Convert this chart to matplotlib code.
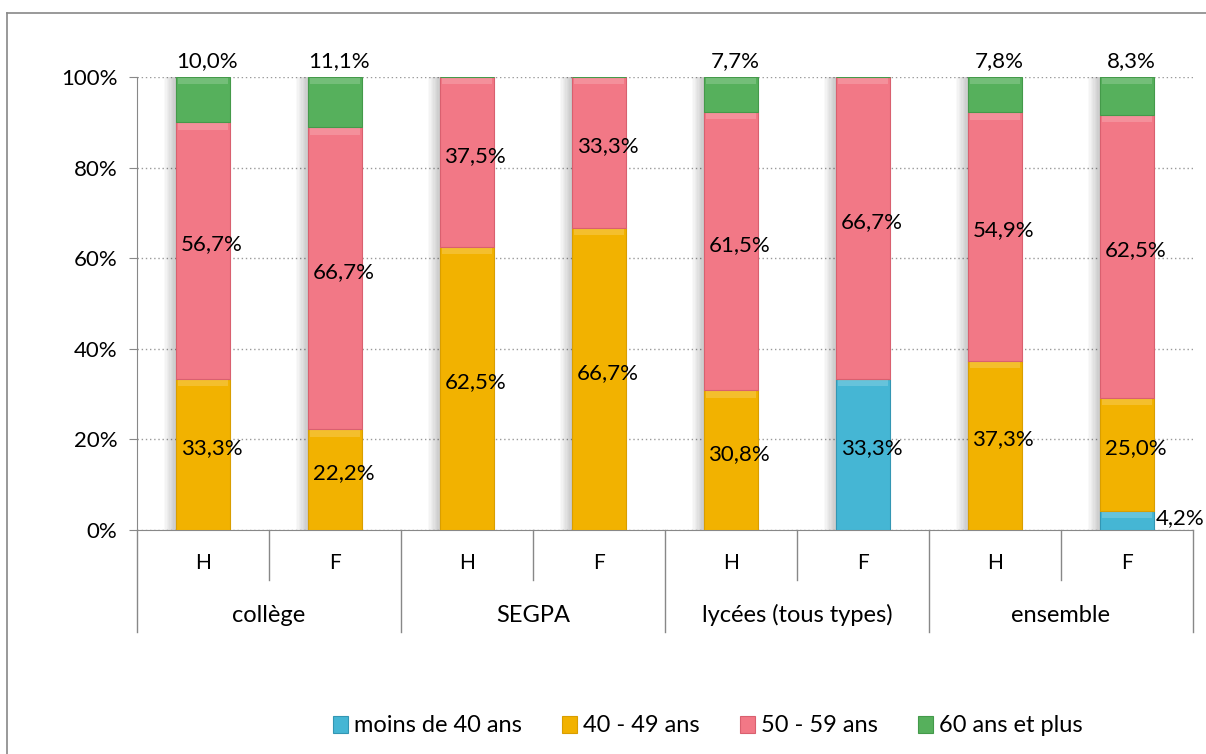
import numpy as np
import matplotlib.pyplot as plt
from matplotlib.lines import Line2D

plt.rcParams['font.family'] = ['Lato', 'DejaVu Sans']

# data
groups = ['collège', 'SEGPA', 'lycées (tous types)', 'ensemble']
sexes = ['H', 'F', 'H', 'F', 'H', 'F', 'H', 'F']
series = ['moins de 40 ans', '40 - 49 ans', '50 - 59 ans', '60 ans et plus']
moins40 = [0, 0, 0, 0, 0, 33.3, 0, 4.2]
a40_49 = [33.3, 22.2, 62.5, 66.7, 30.8, 0, 37.3, 25.0]
a50_59 = [56.7, 66.7, 37.5, 33.3, 61.5, 66.7, 54.9, 62.5]
a60plus = [10.0, 11.1, 0, 0, 7.7, 0, 7.8, 8.3]

colors = ['#45B6D4', '#F2B200', '#F27886', '#56B05C']
edges = ['#3396B3', '#D99E00', '#D9606F', '#449A4A']

W, H = 1206, 754
fig = plt.figure(figsize=(W / 100, H / 100), dpi=100)
ax = fig.add_axes([137 / W, 1 - 530 / H, (1193 - 137) / W, (530 - 77) / H])

x = np.arange(len(sexes))
data = [moins40, a40_49, a50_59, a60plus]
totals = np.sum(data, axis=0)
bw = 0.41

# soft shadow to the left of the bars
for shift in np.linspace(0.09, 0.01, 9):
    ax.bar(x - shift, totals / 100, width=bw, color='black', alpha=0.025, zorder=1,
           linewidth=0)

bottom = np.zeros(len(x))
for vals, c, ec, name in zip(data, colors, edges, series):
    v = np.array(vals) / 100
    ax.bar(x, v, width=bw, bottom=bottom, color=c, edgecolor=ec, linewidth=0.8,
           label=name, zorder=3)
    # bevel highlight on top part of each segment
    hl = np.minimum(v, 0.014)
    ax.bar(x, hl, width=bw * 0.94, bottom=bottom + v - hl - 0.002, color='white',
           alpha=0.18, linewidth=0, zorder=4)
    bottom = bottom + v

# data labels
fs = 16
bottom = np.zeros(len(x))
for si, vals in enumerate(data):
    for i, val in enumerate(vals):
        if val <= 0:
            continue
        lab = f'{val:.1f}%'.replace('.', ',')
        if si == 3:
            ax.annotate(lab, (x[i], totals[i] / 100), xytext=(3, 4),
                        textcoords='offset points', ha='center', va='bottom',
                        fontsize=fs, zorder=6)
        elif val < 10:
            ax.annotate(lab, (x[i] + bw / 2, (bottom[i] + val / 2) / 100),
                        xytext=(1, 2), textcoords='offset points', ha='left',
                        va='center', fontsize=fs, zorder=6)
        else:
            ax.annotate(lab, (x[i], (bottom[i] + val / 2) / 100), xytext=(6, 4.5),
                        textcoords='offset points', ha='center', va='center',
                        fontsize=fs, zorder=6)
    bottom = bottom + np.array(vals)

ax.set_xlim(-0.5, len(x) - 0.5)
ax.set_ylim(0, 1)
ax.set_yticks(np.arange(0, 1.01, 0.2))
ax.set_yticklabels([f'{int(t * 100)}%' for t in np.arange(0, 1.01, 0.2)], fontsize=16)
ax.yaxis.grid(True, linestyle=(0, (1, 2)), color='#999999', linewidth=1)
ax.set_axisbelow(True)
ax.tick_params(axis='y', length=6, color='#888888', pad=8)
ax.tick_params(axis='x', length=0, labelbottom=False)
for s in ['top', 'right']:
    ax.spines[s].set_visible(False)
ax.spines['left'].set_color('#888888')
ax.spines['bottom'].set_color('#888888')

# two-level category axis
tr = ax.get_xaxis_transform()
y_short = -50 / 453
y_long = -102 / 453
for i in range(len(x) + 1):
    pos = i - 0.5
    yl = y_long if i % 2 == 0 else y_short
    ax.plot([pos, pos], [0, yl], color='#888888', lw=1, transform=tr, clip_on=False)
for i, s in enumerate(sexes):
    ax.text(x[i], -33 / 453, s, transform=tr, ha='center', va='center', fontsize=15)
for g, name in enumerate(groups):
    ax.text(2 * g + 0.5, -85 / 453, name, transform=tr, ha='center', va='center',
            fontsize=17)

# outer chart frame
fig.add_artist(Line2D([7 / W, 7 / W], [0, 1 - 13 / H], color='#888888', lw=1.2))
fig.add_artist(Line2D([7 / W, 1], [1 - 13 / H, 1 - 13 / H], color='#888888', lw=1.2))

handles, labels = ax.get_legend_handles_labels()
leg = fig.legend(handles[:4], labels[:4], loc='center', bbox_to_anchor=(708 / W, 1 - 726 / H),
                 ncol=4, frameon=False, fontsize=17, handlelength=0.64, handleheight=0.72,
                 handletextpad=0.25, columnspacing=1.7)

fig.savefig('out.png', dpi=100)
